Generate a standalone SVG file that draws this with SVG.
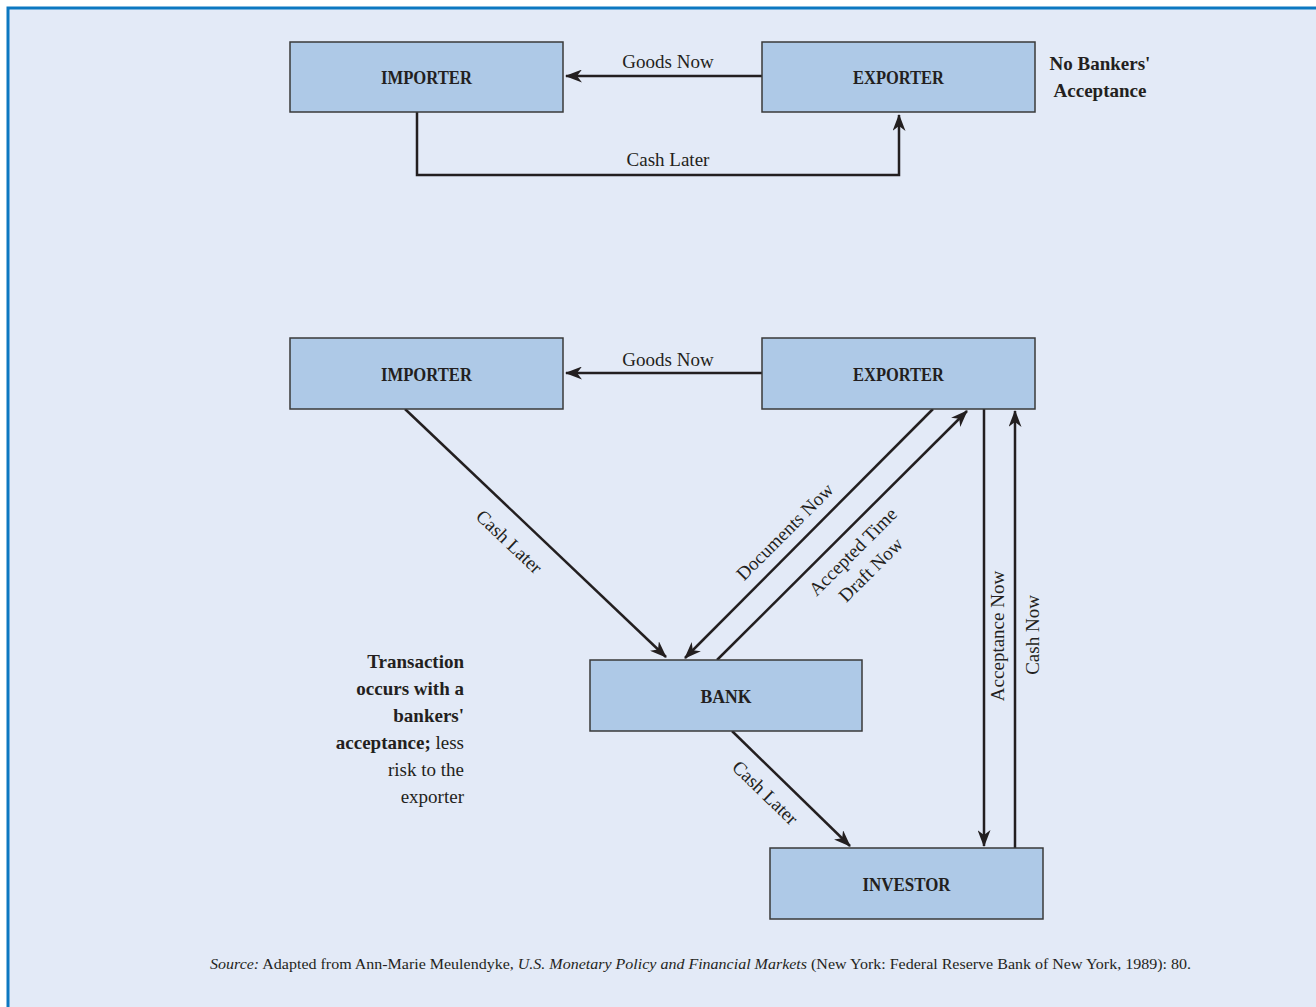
<svg xmlns="http://www.w3.org/2000/svg" width="1316" height="1007" viewBox="0 0 1316 1007">
  <style>
    .box { fill: #aec9e7; stroke: #3a3a3a; stroke-width: 1.5; }
    .lbl { font-family: "Liberation Serif", "Times New Roman", serif; font-size: 19.5px; font-weight: bold; fill: #231f20; text-anchor: middle; }
    .txt { font-family: "Liberation Serif", "Times New Roman", serif; font-size: 19px; fill: #231f20; }
    .mid { text-anchor: middle; }
    .b { font-weight: bold; }
    .edge { fill: none; stroke: #231f20; stroke-width: 2.5; }
  </style>
  <defs>
    <marker id="arrow" viewBox="0 0 17 13" refX="16" refY="6.5" markerWidth="17" markerHeight="13" markerUnits="userSpaceOnUse" orient="auto">
      <path d="M0,0 L17,6.5 L0,13 L5,6.5 z" fill="#231f20"/>
    </marker>
  </defs>

  <!-- page background and frame -->
  <rect x="0" y="0" width="1316" height="1007" fill="#ffffff"/>
  <rect x="8" y="8" width="1400" height="1100" fill="#e3eaf7" stroke="#0d78c1" stroke-width="3"/>

  <!-- connectors -->
  <g id="connectors">
    <!-- upper panel -->
    <line class="edge" x1="762" y1="76" x2="566" y2="76" marker-end="url(#arrow)"/>
    <polyline class="edge" points="417,112 417,175 899,175 899,115" marker-end="url(#arrow)"/>
    <!-- lower panel -->
    <line class="edge" x1="762" y1="373" x2="566" y2="373" marker-end="url(#arrow)"/>
    <line class="edge" x1="405" y1="409" x2="666" y2="657" marker-end="url(#arrow)"/>
    <line class="edge" x1="933" y1="409" x2="685" y2="658" marker-end="url(#arrow)"/>
    <line class="edge" x1="717" y1="660" x2="967" y2="411" marker-end="url(#arrow)"/>
    <line class="edge" x1="984" y1="409" x2="984" y2="846" marker-end="url(#arrow)"/>
    <line class="edge" x1="1015" y1="848" x2="1015" y2="411" marker-end="url(#arrow)"/>
    <line class="edge" x1="732" y1="731" x2="850" y2="846" marker-end="url(#arrow)"/>

    <!-- connector labels -->
    <text class="txt mid" x="668" y="68">Goods Now</text>
    <text class="txt mid" x="668" y="166">Cash Later</text>
    <text class="txt mid" x="668" y="366">Goods Now</text>
    <text class="txt mid" transform="translate(509,542) rotate(43.5)" y="6">Cash Later</text>
    <text class="txt mid" transform="translate(785,532) rotate(-45)" y="6">Documents Now</text>
    <text class="txt mid" transform="translate(853,552) rotate(-45)" y="6">Accepted Time</text>
    <text class="txt mid" transform="translate(871,570) rotate(-45)" y="6">Draft Now</text>
    <text class="txt mid" transform="translate(998,636) rotate(-90)" y="6">Acceptance Now</text>
    <text class="txt mid" transform="translate(1033,635) rotate(-90)" y="6">Cash Now</text>
    <text class="txt mid" transform="translate(765,793) rotate(44)" y="6">Cash Later</text>
  </g>

  <!-- upper panel nodes -->
  <g id="importer-top">
    <rect class="box" x="290" y="42" width="273" height="70"/>
    <text class="lbl" x="426.5" y="84" textLength="91" lengthAdjust="spacingAndGlyphs">IMPORTER</text>
  </g>
  <g id="exporter-top">
    <rect class="box" x="762" y="42" width="273" height="70"/>
    <text class="lbl" x="898.5" y="84" textLength="91" lengthAdjust="spacingAndGlyphs">EXPORTER</text>
  </g>
  <g id="note-top">
    <text class="txt b mid" x="1100" y="70">No Bankers'</text>
    <text class="txt b mid" x="1100" y="97">Acceptance</text>
  </g>

  <!-- lower panel nodes -->
  <g id="importer">
    <rect class="box" x="290" y="338" width="273" height="71"/>
    <text class="lbl" x="426.5" y="381" textLength="91" lengthAdjust="spacingAndGlyphs">IMPORTER</text>
  </g>
  <g id="exporter">
    <rect class="box" x="762" y="338" width="273" height="71"/>
    <text class="lbl" x="898.5" y="381" textLength="91" lengthAdjust="spacingAndGlyphs">EXPORTER</text>
  </g>
  <g id="bank">
    <rect class="box" x="590" y="660" width="272" height="71"/>
    <text class="lbl" x="726" y="703" textLength="51" lengthAdjust="spacingAndGlyphs">BANK</text>
  </g>
  <g id="investor">
    <rect class="box" x="770" y="848" width="273" height="71"/>
    <text class="lbl" x="906.5" y="891" textLength="88" lengthAdjust="spacingAndGlyphs">INVESTOR</text>
  </g>
  <g id="note-bottom">
    <text class="txt" text-anchor="end" x="464" y="668"><tspan class="b">Transaction</tspan></text>
    <text class="txt" text-anchor="end" x="464" y="695"><tspan class="b">occurs with a</tspan></text>
    <text class="txt" text-anchor="end" x="464" y="722"><tspan class="b">bankers'</tspan></text>
    <text class="txt" text-anchor="end" x="464" y="749"><tspan class="b">acceptance;</tspan> less</text>
    <text class="txt" text-anchor="end" x="464" y="776">risk to the</text>
    <text class="txt" text-anchor="end" x="464" y="803">exporter</text>
  </g>

  <!-- source line -->
  <text x="210" y="969" textLength="981" lengthAdjust="spacingAndGlyphs" style="font-family: 'Liberation Serif', 'Times New Roman', serif; font-size: 15.5px; fill: #231f20;"><tspan font-style="italic">Source:</tspan> Adapted from Ann-Marie Meulendyke, <tspan font-style="italic">U.S. Monetary Policy and Financial Markets</tspan> (New York: Federal Reserve Bank of New York, 1989): 80.</text>
</svg>
